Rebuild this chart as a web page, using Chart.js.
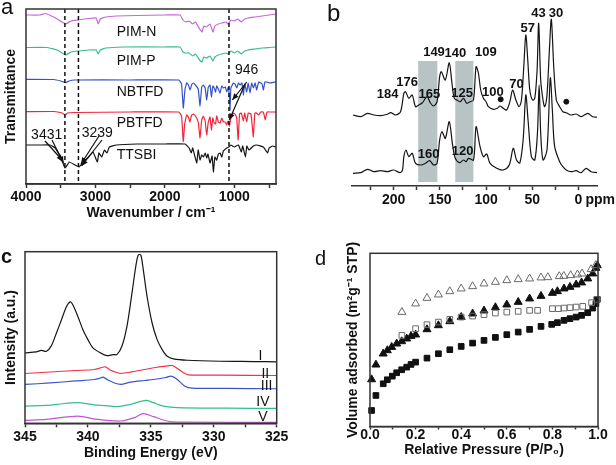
<!DOCTYPE html>
<html>
<head>
<meta charset="utf-8">
<script src="https://cdn.jsdelivr.net/npm/chart.js@4.4.1/dist/chart.umd.min.js"></script>
<style>
  html, body { margin: 0; padding: 0; background: #fff; }
  body { width: 616px; height: 465px; position: relative; overflow: hidden; }
  canvas { position: absolute; }
</style>
</head>
<body>
<canvas id="chartA" width="308" height="232" style="left:0;top:0"></canvas>
<canvas id="chartB" width="308" height="232" style="left:308px;top:0"></canvas>
<canvas id="chartC" width="308" height="233" style="left:0;top:232px"></canvas>
<canvas id="chartD" width="308" height="233" style="left:308px;top:232px"></canvas>
<script>
/* ---------- DATA: panel a (FTIR, [wavenumber, offset transmittance]) ---------- */
const irTicks = [4000, 3500, 3000, 2500, 2000, 1500, 1000, 500];
const irPimN = [[4000,169],[3800,169],[3720,170.5],[3650,168.5],[3550,165],[3430,160],[3350,163],[3250,164],[3100,165.5],[2990,166],[2960,160],[2930,165],[2850,167],[2700,168],[2400,168.5],[2000,169],[1780,169],[1740,164],[1700,162],[1650,163],[1600,160],[1560,162],[1500,155],[1466,152],[1440,158],[1400,157],[1350,160],[1307,152],[1280,158],[1230,160],[1180,161],[1120,162],[1090,160],[1050,164],[1000,163],[950,165],[900,162],[850,165],[800,166],[700,167],[600,168],[500,169],[400,170]];
const irPimP = [[4000,136.5],[3700,136.5],[3550,134],[3430,129],[3350,132],[3250,133],[3100,134],[2990,134],[2960,130],[2930,134],[2850,136],[2600,137],[2000,137],[1780,137],[1740,132],[1700,131],[1650,131],[1600,128],[1560,130],[1500,124],[1466,122],[1440,127],[1400,126],[1350,128],[1307,123],[1280,127],[1230,129],[1180,130],[1120,131],[1090,130],[1050,133],[1000,131],[950,133],[900,130],[850,133],[800,134],[700,135],[600,136],[500,136.5],[400,137]];
const irNbtfd = [[4000,104.7],[3600,104.5],[3500,103],[3430,101.3],[3380,103],[3300,104],[2500,104],[1800,104],[1760,100],[1735,76],[1710,95],[1686,101],[1660,99],[1638,94],[1610,100],[1590,101],[1560,99],[1520,95],[1494,78],[1470,97],[1446,99],[1420,96],[1398,84],[1375,97],[1350,99],[1330,87],[1310,98],[1290,96],[1270,92],[1254,98],[1230,95],[1206,91],[1180,98],[1158,96],[1130,97],[1110,92],[1085,97],[1070,85],[1062,74],[1050,96],[1014,101],[990,100],[966,96],[940,101],[918,99],[890,101],[870,89],[850,100],[822,92],[800,101],[774,91],[750,101],[726,96],[700,101],[678,94],[650,102],[600,100],[582,94],[560,102],[534,102],[486,101],[400,102]];
const irPbtfd = [[4000,72.3],[3600,72.5],[3480,71],[3440,69],[3400,71],[3300,71.5],[2500,72],[1800,72],[1760,68],[1735,42.5],[1715,60],[1686,69],[1660,67],[1640,62],[1615,69],[1590,70],[1560,68],[1520,62],[1494,46],[1470,64],[1446,68],[1420,63],[1398,49],[1375,62],[1350,67],[1330,54],[1310,66],[1290,61],[1270,60],[1254,68],[1230,62],[1206,61],[1180,66],[1158,62],[1130,62],[1110,59],[1090,63],[1070,58],[1050,66],[1014,71],[990,70],[966,66],[945,44],[925,70],[900,71],[870,63],[850,71],[822,62],[800,71],[760,70],[726,47],[705,71],[680,71],[650,69],[620,72],[582,72],[555,64],[530,72],[486,72],[400,72]];
const irTtsbi = [[4000,39],[3800,39],[3654,39],[3580,36],[3500,27],[3438,16],[3376,22],[3294,19],[3237,17],[3175,22],[3100,27],[3035,32],[2973,22],[2950,31],[2910,27],[2870,34],[2834,31],[2800,37],[2700,39],[2400,40],[2000,40],[1710,40],[1650,36],[1620,31],[1600,36],[1542,21],[1520,34],[1494,24],[1470,29],[1446,27],[1420,31],[1398,26],[1380,30],[1350,21],[1320,28],[1302,12],[1280,27],[1254,24],[1230,30],[1206,31],[1180,27],[1158,33],[1110,36],[1080,37],[1050,39],[1000,37],[940,39],[900,32],[880,38],[840,27],[820,38],[790,34],[726,38],[678,39],[582,37],[520,31],[500,36],[450,38],[400,37]];
const irNames = ['PIM-N', 'PIM-P', 'NBTFD', 'PBTFD', 'TTSBI'];
const irNameY = [152.3, 123, 92.3, 60.7, 29];
const irDashes = [3440, 3245, 1077];
const irPeakLabels = [['3431', 3702, 49], ['3239', 2973, 50.7], ['946', 822, 114]];
const irArrows = [[3726,43,3467,23],[3626,44,3460,21],[2949,48,3208,20],[2906,44,3200,18],[822,102,1029,84],[846,100,1072,64]];

/* ---------- DATA: panel b (13C NMR, [ppm, offset intensity]) ---------- */
const nmrTicks = [225, 200, 175, 150, 125, 100, 75, 50, 25, 0];
const nmrUpper = [[244,71],[235.5,69.3],[228.3,72.7],[221.2,71],[214,70.3],[206.8,71.7],[203.2,73.3],[197.8,71],[192.5,74.3],[188.9,92.7],[187.1,94.3],[183.5,87.7],[179.9,91],[176.3,79.3],[172.8,81],[169.1,83],[163.8,89.3],[160.2,83],[156.7,80],[153,84.3],[150.2,109.3],[148.4,114.3],[144.1,106],[139.8,123.3],[136.9,103],[134.4,87.7],[131.5,86],[128,84.3],[124.4,87.7],[120.8,82.7],[117.2,84.3],[113.6,86],[110.8,119.3],[108.3,113],[105.8,96],[102.9,87.7],[100,84.3],[97.5,79.3],[92.2,76.7],[87.8,77.7],[85,80],[81.4,77.7],[77.8,76],[74.2,84.3],[71.3,96],[67.7,86],[64.2,79.3],[61.7,86],[59.2,119.3],[57,151],[54.9,126],[52.7,96],[49.8,86],[47.3,87.7],[44.8,116],[43.1,162.7],[40.9,106],[38.4,86],[36.6,79.3],[34.1,91],[31.5,136],[29.4,166.7],[26.8,119.3],[24,86],[20.4,79.3],[16.9,74.3],[13.3,73.3],[7.9,71],[2.6,72],[-2.8,69.3],[-10,72.7],[-15.4,69.3],[-20.4,68.7]];
const nmrLower = [[244,12.7],[235.5,13.3],[228.3,16.7],[221.2,14.3],[214,15.3],[206.8,14.3],[200,16],[193,13.3],[190.4,16],[188.9,29.3],[186.6,36],[183.5,29.3],[179.9,32.7],[176.3,22.7],[170.9,21],[165.5,22.7],[161,25.3],[156.7,21],[153,22.7],[150.2,46],[147.7,54.3],[144.1,47.7],[139.8,64.3],[136.2,41],[133.3,27.7],[128.7,23.3],[124.4,26],[121.5,24.3],[119,27.7],[113.6,26],[110.8,59.3],[106.5,39.3],[102.9,29.3],[99.3,32],[95.7,22.7],[88.5,17.7],[81.4,16],[74.9,21],[70.6,37.7],[67,26],[63.5,23],[59.9,46],[57,91],[54.6,66],[51,29.3],[47.3,26],[44.4,53],[42.6,101],[40.9,53],[38.4,26],[34.1,36],[30.5,108],[28.3,76],[25.8,39.3],[20.4,24.3],[16.9,19.3],[13.3,16],[7.9,14.3],[2.6,15.3],[-2.8,13.3],[-8.2,17.7],[-13.6,14.3],[-20.4,13.3]];
const nmrDots = [[84.2,86.7],[13.2,84.3]];
const nmrBands = [[173.4, 152.7], [133.3, 113.7]];
const nmrBandY = [4, 125];
const nmrLabels = [['184',206.5,91.3],['176',185.3,103.8],['165',161.3,91.7],['149',156.3,134],['140',133.3,132.7],['125',126,92.2],['109',100.2,133.2],['100',92.6,94],['70',67,101.3],['57',55,157.3],['43',43.2,172.7],['30',24.4,172.7],['160',162.2,31.3],['120',125.3,34.7]];

/* ---------- DATA: panel c (XPS, [binding energy, offset intensity]) ---------- */
const xpsTicks = [345, 342.5, 340, 337.5, 335, 332.5, 330, 327.5, 325];
const xpsI = [[345,69.7],[344.1,70.7],[343.7,72.3],[343.3,71.3],[342.9,77],[342.5,89.7],[342.1,103],[341.7,116.3],[341.4,121],[341.2,118],[340.8,106.3],[340.4,93],[340,83],[339.6,74.7],[339,69.7],[338.5,67],[338,68],[337.7,68],[337.3,76.3],[336.9,96.3],[336.5,129.7],[336.2,156.3],[336,168],[335.8,168],[335.6,153],[335.3,126.3],[334.9,99.7],[334.5,83],[334.1,73],[333.7,66.3],[333.2,63.7],[332.1,62.3],[329.5,61.3],[326.8,61],[325,60.7]];
const xpsII = [[345,49],[343,50.5],[341,52],[339.5,53],[338.9,55],[338.6,55.7],[338.2,52.3],[337.7,50],[337.4,49],[336.5,50.7],[335.5,53],[334.5,55.3],[333.6,56.7],[333.3,57],[333,55],[332.4,49.7],[332,47.7],[329.5,47.3],[325,47]];
const xpsIII = [[345,38],[343,39.5],[341,41.5],[339.5,43],[339,44.5],[338.8,45.3],[338.4,42.5],[337.9,39.5],[337.4,38],[336.6,40.3],[335.5,42],[334.8,43],[333.8,45],[333.4,46.3],[333,44],[332.3,36.3],[331.7,34.3],[329,34],[325,33.7]];
const xpsIV = [[345,16.3],[343.3,17],[342.5,18],[340.8,19.7],[339.5,17.5],[338.2,16.3],[337.7,15.7],[336.6,18],[335.4,22],[334.8,19.7],[334,16.3],[332.9,14.7],[329,14.2],[325,14]];
const xpsV = [[345,2],[343.3,3],[340.8,6.3],[339.3,3],[337.4,1.3],[336.3,4.7],[335.6,8.7],[334.8,5.7],[333.7,1.3],[332.7,0.3],[325,0]];
const xpsNames = [['I',326.3,66],['II',325.9,48.3],['III',325.8,36.6],['IV',326.1,20.6],['V',326.1,5.3]];

/* ---------- DATA: panel d (isotherms, [P/P0, volume]) ---------- */
const betTicks = [0, 0.1, 0.2, 0.3, 0.4, 0.5, 0.6, 0.7, 0.8, 0.9, 1.0];
const openTri = [[0.14,114.3],[0.2,122.7],[0.25,128.3],[0.3,131.7],[0.35,135],[0.4,137.7],[0.45,140],[0.5,142.7],[0.55,144.3],[0.6,146],[0.65,147],[0.7,147.7],[0.75,148.7],[0.78,149],[0.83,150],[0.85,150.3],[0.88,151],[0.91,151.7],[0.93,152.7],[0.97,157],[0.99,161]];
const filledTri = [[0.007,47],[0.026,61.7],[0.058,72.7],[0.076,76],[0.095,79.3],[0.117,82.7],[0.139,85],[0.161,87.7],[0.18,90.3],[0.2,91.7],[0.25,97],[0.3,101],[0.35,105],[0.4,109.3],[0.45,112.7],[0.5,115.7],[0.55,119],[0.6,121.7],[0.65,124.3],[0.7,127.7],[0.75,130.3],[0.8,133.3],[0.822,135],[0.851,137.7],[0.877,139.3],[0.904,141.7],[0.928,143.7],[0.955,147.7],[0.977,152.7],[0.991,158.3],[0.997,161]];
const openSq = [[0.14,91],[0.2,97.7],[0.25,101.7],[0.3,104.3],[0.35,107],[0.4,109.3],[0.45,110.3],[0.5,111.7],[0.55,113.3],[0.6,114.3],[0.65,115],[0.7,116],[0.735,116],[0.8,117.7],[0.826,117.7],[0.851,118.3],[0.877,118.7],[0.904,119.3],[0.933,120],[0.972,123.7],[0.994,127]];
const filledSq = [[0.007,16],[0.026,31],[0.058,42.7],[0.076,46.7],[0.098,50.3],[0.117,53.7],[0.139,56.7],[0.161,59.3],[0.18,62],[0.2,64.3],[0.25,68.3],[0.3,72.7],[0.35,76.7],[0.4,80],[0.45,83.3],[0.5,86],[0.55,89],[0.6,91.7],[0.65,94.3],[0.7,97],[0.75,100],[0.797,102],[0.822,103.7],[0.851,106],[0.877,107.7],[0.904,109.3],[0.928,111],[0.955,113.7],[0.977,118.3],[0.991,122.7],[0.997,127]];

/* ---------- HELPERS ---------- */
Chart.defaults.font.family = "'Liberation Sans', Arial, sans-serif";
Chart.defaults.color = '#111';

const AXIS = '#333';
const FONT = "'Liberation Sans', Arial, sans-serif";
const bold14 = { size: 14, weight: 'bold' };

const xy = pts => pts.map(p => ({ x: p[0], y: p[1] }));
const useTicks = values => scale => { scale.ticks = values.map(v => ({ value: v })); };

function line(pts, color, tension) {
  return { data: xy(pts), borderColor: color, borderWidth: 1.2, pointRadius: 0, tension: tension, fill: false };
}

function text(chart, str, x, y, font, align) {
  const ctx = chart.ctx;
  ctx.save();
  ctx.font = font;
  ctx.fillStyle = '#111';
  ctx.textAlign = align || 'center';
  ctx.textBaseline = 'middle';
  ctx.fillText(str, chart.scales.x.getPixelForValue(x), chart.scales.y.getPixelForValue(y));
  ctx.restore();
}

function letter(chart, str, x, y, font) {
  const ctx = chart.ctx;
  ctx.save();
  ctx.font = font;
  ctx.fillStyle = '#111';
  ctx.textAlign = 'left';
  ctx.textBaseline = 'alphabetic';
  ctx.fillText(str, x, y);
  ctx.restore();
}

function box(chart) {
  const { left, top, right, bottom } = chart.chartArea;
  const ctx = chart.ctx;
  ctx.save();
  ctx.strokeStyle = AXIS;
  ctx.lineWidth = 1.5;
  ctx.strokeRect(left, top, right - left, bottom - top);
  ctx.restore();
}

function arrow(chart, a) {
  const sx = chart.scales.x, sy = chart.scales.y, ctx = chart.ctx;
  const x1 = sx.getPixelForValue(a[0]), y1 = sy.getPixelForValue(a[1]);
  const x2 = sx.getPixelForValue(a[2]), y2 = sy.getPixelForValue(a[3]);
  const ang = Math.atan2(y2 - y1, x2 - x1);
  ctx.save();
  ctx.strokeStyle = '#111';
  ctx.fillStyle = '#111';
  ctx.lineWidth = 1.2;
  ctx.beginPath();
  ctx.moveTo(x1, y1);
  ctx.lineTo(x2, y2);
  ctx.stroke();
  ctx.beginPath();
  ctx.moveTo(x2, y2);
  ctx.lineTo(x2 - 7 * Math.cos(ang - 0.4), y2 - 7 * Math.sin(ang - 0.4));
  ctx.lineTo(x2 - 7 * Math.cos(ang + 0.4), y2 - 7 * Math.sin(ang + 0.4));
  ctx.closePath();
  ctx.fill();
  ctx.restore();
}

function xAxis(opts) {
  return Object.assign({
    type: 'linear',
    afterBuildTicks: useTicks(opts.tickValues),
    afterFit: s => { s.height = opts.height; },
    ticks: { callback: opts.labels, font: bold14, padding: opts.pad, maxRotation: 0, autoSkip: false, color: '#111' },
    grid: { display: true, drawOnChartArea: false, drawTicks: true, tickLength: opts.tick, tickColor: AXIS, tickWidth: 1.5 },
    border: { display: true, color: AXIS, width: 1.5 },
    title: opts.title ? { display: true, text: opts.title, font: bold14, color: '#111', padding: { top: 0, bottom: opts.titlePad } } : { display: false }
  }, opts.extra);
}

function yAxis(min, max, width, title, titlePad) {
  return {
    min: min, max: max,
    afterFit: s => { s.width = width; },
    ticks: { display: false },
    grid: { display: false },
    border: { display: false },
    title: { display: true, text: title, font: bold14, color: '#111', padding: { top: titlePad, bottom: 0 } }
  };
}

const base = {
  responsive: false,
  animation: false,
  events: [],
  plugins: { legend: { display: false }, tooltip: { enabled: false } }
};

/* ---------- PANEL A ---------- */
const irColors = ['#c46bd6', '#3dbb8b', '#3553c9', '#f2243c', '#151515'];
new Chart(document.getElementById('chartA'), {
  type: 'line',
  data: { datasets: [irPimN, irPimP, irNbtfd, irPbtfd, irTtsbi].map((s, i) => line(s, irColors[i], 0.1)) },
  options: Object.assign({}, base, {
    layout: { padding: { left: 0, top: 9, right: 32, bottom: 0 } },
    scales: {
      x: xAxis({ tickValues: irTicks, height: 48, pad: 1, tick: 4, titlePad: 10,
        labels: v => (v % 1000 === 0 ? String(v) : ''), title: 'Wavenumber / cm⁻¹',
        extra: { min: 400, max: 4000, reverse: true } }),
      y: yAxis(0, 175, 26, 'Transmittance', 3)
    }
  }),
  plugins: [{
    id: 'decoA',
    afterDraw(chart) {
      const ctx = chart.ctx, area = chart.chartArea;
      ctx.save();
      ctx.strokeStyle = '#111';
      ctx.lineWidth = 1.5;
      ctx.setLineDash([4, 3]);
      irDashes.forEach(w => {
        const px = chart.scales.x.getPixelForValue(w);
        ctx.beginPath();
        ctx.moveTo(px, area.top);
        ctx.lineTo(px, area.bottom);
        ctx.stroke();
      });
      ctx.restore();
      irArrows.forEach(a => arrow(chart, a));
      irNames.forEach((n, i) => text(chart, n, 2694, irNameY[i], '14px ' + FONT, 'left'));
      irPeakLabels.forEach(l => text(chart, l[0], l[1], l[2], '14px ' + FONT));
      box(chart);
      letter(chart, 'a', 1, 14, '22px ' + FONT);
    }
  }]
});

/* ---------- PANEL B ---------- */
new Chart(document.getElementById('chartB'), {
  type: 'line',
  data: {
    datasets: [
      line(nmrUpper, '#151515', 0.3),
      line(nmrLower, '#151515', 0.3),
      { type: 'scatter', data: xy(nmrDots), pointRadius: 2.5, backgroundColor: '#111', borderColor: '#111', showLine: false }
    ]
  },
  options: Object.assign({}, base, {
    layout: { padding: { left: 44, top: 5, right: 19, bottom: 0 } },
    scales: {
      x: xAxis({ tickValues: nmrTicks, height: 46, pad: 2, tick: 4,
        labels: v => (v % 50 === 0 ? String(v) : ''),
        extra: { min: -20, max: 245, reverse: true } }),
      y: { display: false, min: 0, max: 181 }
    }
  }),
  plugins: [{
    id: 'decoB',
    beforeDatasetsDraw(chart) {
      const ctx = chart.ctx, sx = chart.scales.x, sy = chart.scales.y;
      ctx.save();
      ctx.fillStyle = '#b8c3c6';
      nmrBands.forEach(b => {
        const x1 = sx.getPixelForValue(b[0]), x2 = sx.getPixelForValue(b[1]);
        const y1 = sy.getPixelForValue(nmrBandY[1]), y2 = sy.getPixelForValue(nmrBandY[0]);
        ctx.fillRect(x1, y1, x2 - x1, y2 - y1);
      });
      ctx.restore();
    },
    afterDraw(chart) {
      nmrLabels.forEach(l => text(chart, l[0], l[1], l[2], 'bold 13px ' + FONT));
      const ctx = chart.ctx, sx = chart.scales.x;
      ctx.save();
      ctx.font = 'bold 14px ' + FONT;
      ctx.fillStyle = '#111';
      ctx.textAlign = 'left';
      ctx.textBaseline = 'middle';
      ctx.fillText('ppm', sx.getPixelForValue(0) + 7, sx.top + 4 + 2 + 8.4);
      ctx.restore();
      letter(chart, 'b', 19, 21, '24px ' + FONT);
    }
  }]
});

/* ---------- PANEL C ---------- */
const xpsColors = ['#151515', '#f2304a', '#3a55c8', '#34bf8e', '#c255d2'];
new Chart(document.getElementById('chartC'), {
  type: 'line',
  data: { datasets: [xpsI, xpsII, xpsIII, xpsIV, xpsV].map((s, i) => line(s, xpsColors[i], 0.3)) },
  options: Object.assign({}, base, {
    layout: { padding: { left: 0, top: 19.7, right: 31.3, bottom: 0 } },
    scales: {
      x: xAxis({ tickValues: xpsTicks, height: 41.7, pad: 1, tick: 4, titlePad: 3,
        labels: v => (v % 5 === 0 ? String(v) : ''), title: 'Binding Energy (eV)',
        extra: { min: 325, max: 345, reverse: true } }),
      y: yAxis(-1, 171.3, 25, 'Intensity (a.u.)', 3)
    }
  }),
  plugins: [{
    id: 'decoC',
    afterDraw(chart) {
      xpsNames.forEach(l => text(chart, l[0], l[1], l[2], '14px ' + FONT));
      box(chart);
      letter(chart, 'c', 1, 31, 'bold 20px ' + FONT);
    }
  }]
});

/* ---------- PANEL D ---------- */
function markers(pts, style, r, filled) {
  return {
    data: xy(pts), pointStyle: style, pointRadius: r, borderWidth: 1, clip: 6,
    backgroundColor: filled ? '#111' : 'rgba(255,255,255,0)',
    borderColor: filled ? '#111' : '#6a6a6a'
  };
}
new Chart(document.getElementById('chartD'), {
  type: 'scatter',
  data: {
    datasets: [
      markers(openTri, 'triangle', 4.6, false),
      markers(openSq, 'rect', 4, false),
      markers(filledTri, 'triangle', 4.6, true),
      markers(filledSq, 'rect', 4, true)
    ]
  },
  options: Object.assign({}, base, {
    layout: { padding: { left: 0, top: 21.3, right: 18, bottom: 0 } },
    scales: {
      x: xAxis({ tickValues: betTicks, height: 38.5, pad: -3, tick: 3, titlePad: 6.6,
        labels: v => (Math.round(v * 10) % 2 === 0 ? v.toFixed(1) : ''), title: 'Relative Pressure (P/P₀)',
        extra: { min: 0, max: 1 } }),
      y: yAxis(0, 173, 62, 'Volume adsorbed (m²g⁻¹ STP)', 37)
    }
  }),
  plugins: [{
    id: 'decoD',
    afterDraw(chart) {
      box(chart);
      letter(chart, 'd', 7, 33, '20px ' + FONT);
    }
  }]
});
</script>
</body>
</html>
